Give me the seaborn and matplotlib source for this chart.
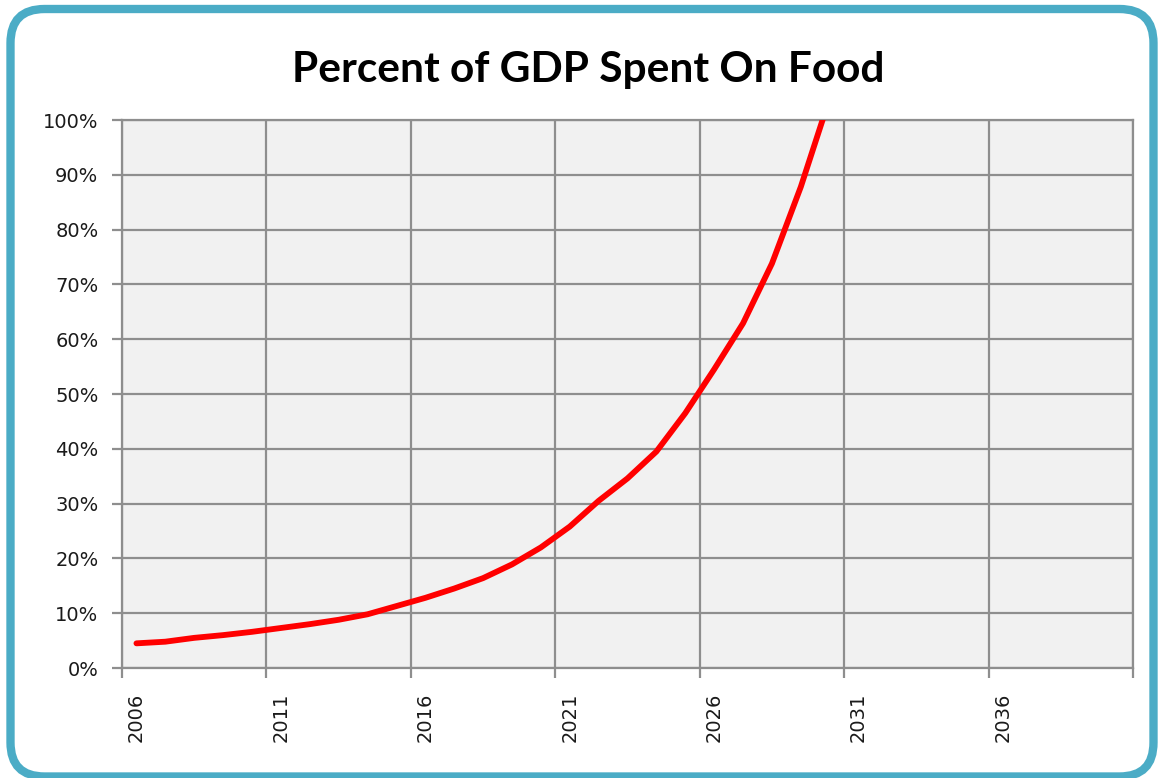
import matplotlib
matplotlib.use("Agg")
import matplotlib.pyplot as plt
import numpy as np
import pandas as pd
import seaborn as sns
from matplotlib.patches import FancyBboxPatch
from matplotlib.ticker import FixedLocator, PercentFormatter, NullFormatter

# Projected share of GDP spent on food (percent), by year
years = [2006, 2007, 2008, 2009, 2010, 2011, 2012, 2013, 2014, 2015,
         2016, 2017, 2018, 2019, 2020, 2021, 2022, 2023, 2024, 2025,
         2026, 2027, 2028, 2029, 2030]
food_share = [4.5, 4.8, 5.5, 6.0, 6.6, 7.3, 8.0, 8.8, 9.8, 11.3,
              12.8, 14.5, 16.4, 18.9, 22.0, 25.8, 30.5, 34.6, 39.5, 46.5,
              54.5, 62.9, 73.8, 87.8, 104.0]
axis_years = list(range(2006, 2041))          # category axis runs 2006..2040
label_years = [2006, 2011, 2016, 2021, 2026, 2031, 2036]
y_ticks = [0, 10, 20, 30, 40, 50, 60, 70, 80, 90, 100]

sns.set_theme(style="white")
plt.rcParams["font.family"] = ["DejaVu Sans"]

W, H, DPI = 1163, 778, 100
fig = plt.figure(figsize=(W / DPI, H / DPI), dpi=DPI, facecolor="white")

# rounded frame around the whole chart
bg = fig.add_axes([0, 0, 1, 1], zorder=-5)
bg.set_xlim(0, W)
bg.set_ylim(0, H)
bg.axis("off")
bg.add_patch(FancyBboxPatch((10.5, 1.5), W - 20, H - 10.5,
                            boxstyle="round,pad=0,rounding_size=34",
                            facecolor="white", edgecolor="#4BACC6",
                            linewidth=6.0))

ax = fig.add_axes([122 / W, 1 - 668 / H, (1133 - 122) / W, (668 - 120) / H])
ax.set_facecolor("#F1F1F1")

first = axis_years[0]
df = pd.DataFrame({
    "pos": [y - first + 0.5 for y in years],   # centre of each year's category
    "share": food_share,
})
sns.lineplot(data=df, x="pos", y="share", ax=ax, color="#FF0000",
             linewidth=4.2, solid_capstyle="round", solid_joinstyle="round",
             zorder=3)

ax.set_xlim(0, len(axis_years))
ax.set_ylim(0, 100)

grid_c = "#8E8E8E"
text_c = "#1A1A1A"
# category boundaries every five years carry the ticks and grid
bounds = [y - first for y in label_years] + [len(axis_years)]
ax.xaxis.set_major_locator(FixedLocator(bounds))
ax.xaxis.set_major_formatter(NullFormatter())
ax.xaxis.set_minor_locator(FixedLocator([y - first + 0.5 for y in label_years]))
ax.set_xticklabels([str(y) for y in label_years], minor=True, rotation=90,
                   fontsize=14, color=text_c)
ax.tick_params(axis="x", which="major", direction="out", length=7,
               width=1.6, color=grid_c, bottom=True)
ax.tick_params(axis="x", which="minor", length=0, pad=18, bottom=True)

ax.set_yticks(y_ticks)
ax.yaxis.set_major_formatter(PercentFormatter(xmax=100, decimals=0))
ax.tick_params(axis="y", direction="out", length=7, width=1.6, color=grid_c,
               labelsize=14, labelcolor=text_c, pad=10, left=True)

ax.grid(True, which="major", color=grid_c, linewidth=1.6)
ax.set_axisbelow(True)
for s in ax.spines.values():
    s.set_visible(True)
    s.set_color(grid_c)
    s.set_linewidth(1.6)

ax.set_xlabel("")
ax.set_ylabel("")

fig.text(588 / W, 1 - 70 / H, "Percent of GDP Spent On Food",
         ha="center", va="center", fontsize=30.5, fontweight="bold",
         family=["Lato", "DejaVu Sans"], color="black")

fig.savefig("out.png", dpi=DPI, facecolor="white")
